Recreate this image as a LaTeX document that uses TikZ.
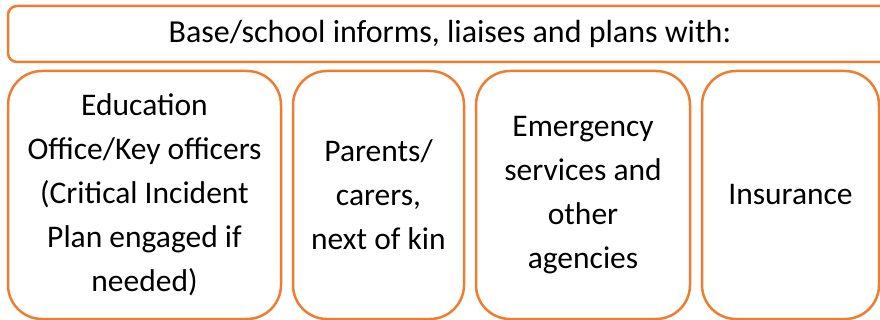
\documentclass[tikz,border=0pt]{standalone}
\usepackage{fontspec}
\setmainfont{Carlito}
\usetikzlibrary{positioning}
\definecolor{boxorange}{HTML}{ED7D31}
\tikzset{
  box/.style={draw=boxorange, line width=2.5pt, fill=white, outer sep=0pt,
              inner sep=0pt, align=center},
  header/.style={box, rounded corners=9pt, minimum width=884pt, minimum height=56pt,
                 font=\fontsize{32}{38}\selectfont},
  agency/.style={box, rounded corners=34pt, minimum height=248pt,
                 font=\fontsize{31.5}{44}\selectfont}
}

\begin{document}
\begin{tikzpicture}[x=1pt, y=1pt, node distance=12pt]
  \useasboundingbox (0,0) rectangle (880,-320);
  \clip (0,0) rectangle (880,-320);
  \node[header] (top) at (450,-34) {Base/school informs, liaises and plans with:};
  % the four partners, left to right
  \node[agency, minimum width=273pt] (edu) at (144.5,-195)
    {Education\\Office/Key officers\\(Critical Incident\\Plan engaged if\\needed)};
  \node[agency, minimum width=171pt] (par) [right=of edu] {Parents/\\carers,\\next of kin};
  \node[agency, minimum width=214pt] (emg) [right=of par] {Emergency\\services and\\other\\agencies};
  \node[agency, minimum width=177pt] (ins) [right=of emg] {Insurance};
\end{tikzpicture}
\end{document}
